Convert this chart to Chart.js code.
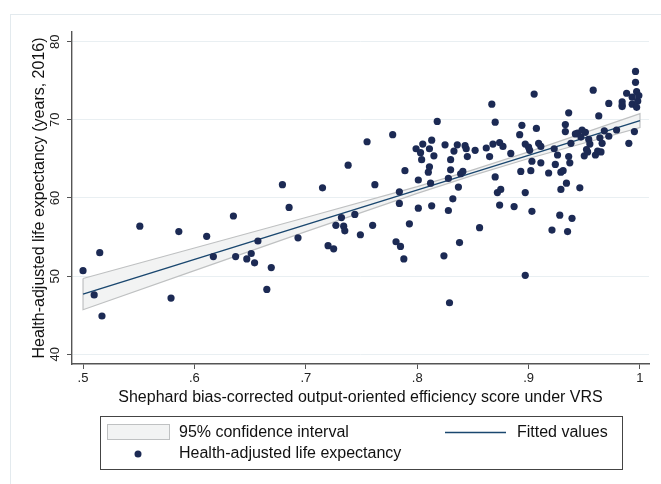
<!DOCTYPE html>
<html>
<head>
<meta charset="utf-8">
<script src="https://cdn.jsdelivr.net/npm/chart.js@4.4.0/dist/chart.umd.min.js"></script>
<style>
    html, body { margin: 0; padding: 0; background: #fff; }
    #wrap { position: relative; width: 661px; height: 484px; overflow: hidden; }
    #frame { position: absolute; left: 10px; top: 14px; width: 700px; height: 520px; border: 1px solid #e3eaee; }
    #chart { position: absolute; left: 0; top: 0; }
</style>
</head>
<body>
<div id="wrap">
    <div id="frame"></div>
    <canvas id="chart" width="661" height="484"></canvas>
</div>
<script>
// Scatter data: efficiency score (x) and health-adjusted life expectancy (y)
const efficiency = [
    .500, .510, .515, .517, .551, .579, .586, .611, .617, .635,
    .637, .647, .651, .654, .657, .665, .669, .679, .685, .693,
    .715, .720, .725, .727, .732, .734, .735, .738, .744, .749,
    .755, .760, .762, .778, .781, .784, .784, .785, .788, .789,
    .793, .799, .801, .801, .803, .804, .805, .810, .811, .811,
    .812, .813, .813, .815, .818, .824, .825, .828, .828, .829,
    .830, .830, .832, .833, .836, .837, .838, .839, .841, .843,
    .844, .845, .852, .856, .862, .865, .867, .868, .870, .870,
    .872, .874, .874, .875, .877, .884, .887, .892, .893, .894,
    .897, .897, .897, .900, .901, .902, .903, .903, .905, .907,
    .909, .911, .911, .918, .921, .923, .924, .926, .928, .929,
    .929, .931, .933, .933, .934, .935, .936, .936, .937, .938,
    .939, .942, .944, .946, .947, .948, .950, .951, .952, .953,
    .954, .955, .958, .960, .962, .963, .964, .965, .966, .968,
    .972, .972, .979, .984, .984, .984, .988, .990, .993, .993,
    .995, .996, .996, .997, .998, .997, .999
];
const hale = [
    50.7, 47.6, 53.0, 44.9, 56.4, 47.2, 55.7, 55.1, 52.5, 57.7,
    52.5, 52.2, 52.9, 51.7, 54.5, 48.3, 51.1, 61.7, 58.8, 54.9,
    61.3, 53.9, 53.5, 56.5, 57.5, 56.4, 55.8, 64.2, 57.9, 55.3,
    67.2, 56.5, 61.7, 68.1, 54.4, 60.8, 59.3, 53.8, 52.2, 63.5,
    56.7, 66.3, 62.3, 58.7, 65.8, 64.9, 66.9, 63.3, 66.3, 64.0,
    61.9, 59.0, 67.4, 65.4, 69.8, 52.6, 66.8, 58.4, 62.5, 46.6,
    63.6, 64.9, 59.9, 66.0, 66.8, 61.4, 54.3, 63.1, 63.4, 66.7,
    66.3, 65.3, 66.1, 56.2, 66.4, 65.3, 72.0, 66.9, 69.7, 62.7,
    60.7, 67.1, 59.1, 61.1, 66.6, 65.7, 58.9, 68.1, 63.4, 69.3,
    50.1, 60.7, 66.9, 66.5, 66.1, 63.5, 58.3, 64.7, 73.3, 68.9,
    67.0, 64.5, 66.6, 63.2, 55.9, 66.3, 64.3, 65.5, 57.8, 61.1,
    63.3, 63.5, 69.4, 68.5, 61.9, 55.7, 70.9, 65.3, 64.5, 67.0,
    57.4, 68.2, 68.3, 61.3, 67.8, 68.7, 65.4, 68.4, 66.2, 65.9,
    67.5, 66.9, 73.8, 65.5, 66.0, 70.5, 67.7, 65.9, 67.0, 68.6,
    67.9, 72.1, 68.7, 71.7, 72.3, 71.9, 73.4, 67.0, 72.0, 72.9,
    68.5, 76.2, 74.8, 73.6, 72.4, 71.6, 73.1
];

// Fitted line and its 95% confidence band
const fitX = [0.5, 1.0];
const fitY = [47.7, 69.9];
const ciX = [0.5, 0.6, 0.7, 0.8, 0.85, 0.9, 1.0];
const ciUpper = [49.7, 53.6, 57.5, 61.45, 63.6, 65.9, 70.8];
const ciLower = [45.7, 50.7, 55.7, 60.6, 62.9, 65.05, 69.0];

// Axis ticks
const xTicks = [0.5, 0.6, 0.7, 0.8, 0.9, 1.0];
const xTickLabels = ['.5', '.6', '.7', '.8', '.9', '1'];
const yTicks = [40, 50, 60, 70, 80];

const dotColor = '#1c2a54';
const fitColor = '#1a476f';
const bandFill = '#f2f3f3';
const bandEdge = '#bfc1c2';
const fontFamily = '"Liberation Sans", Arial, sans-serif';

const bandOutline = ciX.map((x, i) => ({ x: x, y: ciUpper[i] }))
    .concat(ciX.slice().reverse().map((x, i) => ({ x: x, y: ciLower[ciX.length - 1 - i] })));
bandOutline.push(bandOutline[0]);

// y tick labels rotated like the original, plus the boxed legend
const extrasPlugin = {
    id: 'extras',
    afterDraw(chart) {
        const ctx = chart.ctx;
        const ys = chart.scales.y;
        ctx.save();
        ctx.fillStyle = '#222';
        ctx.font = '13px ' + fontFamily;
        ctx.textAlign = 'center';
        ctx.textBaseline = 'middle';
        yTicks.forEach(function(v) {
            ctx.save();
            ctx.translate(55, ys.getPixelForValue(v));
            ctx.rotate(-Math.PI / 2);
            ctx.fillText(String(v), 0, 0);
            ctx.restore();
        });

        // Legend
        ctx.strokeStyle = '#444';
        ctx.lineWidth = 1;
        ctx.strokeRect(100.5, 416.5, 522, 53);

        ctx.fillStyle = bandFill;
        ctx.fillRect(107, 424, 62, 15);
        ctx.strokeStyle = bandEdge;
        ctx.strokeRect(107.5, 424.5, 62, 15);

        ctx.strokeStyle = fitColor;
        ctx.lineWidth = 1.5;
        ctx.beginPath();
        ctx.moveTo(445, 432.5);
        ctx.lineTo(506, 432.5);
        ctx.stroke();

        ctx.fillStyle = dotColor;
        ctx.beginPath();
        ctx.arc(138, 454, 3.5, 0, Math.PI * 2);
        ctx.fill();

        ctx.fillStyle = '#111';
        ctx.font = '16px ' + fontFamily;
        ctx.textAlign = 'left';
        ctx.fillText(chart.data.datasets[3].label, 179, 433);
        ctx.fillText(chart.data.datasets[1].label, 517, 433);
        ctx.fillText(chart.data.datasets[0].label, 179, 454);
        ctx.restore();
    }
};

const ctx = document.getElementById('chart').getContext('2d');
const chart = new Chart(ctx, {
    type: 'scatter',
    data: {
        datasets: [{
            label: 'Health-adjusted life expectancy',
            data: efficiency.map((x, i) => ({ x: x, y: hale[i] })),
            backgroundColor: dotColor,
            pointRadius: 3.6,
            pointBorderWidth: 0,
            order: 0
        }, {
            label: 'Fitted values',
            data: fitX.map((x, i) => ({ x: x, y: fitY[i] })),
            showLine: true,
            borderColor: fitColor,
            borderWidth: 1.5,
            pointRadius: 0,
            order: 1
        }, {
            label: 'band outline',
            data: bandOutline,
            showLine: true,
            borderColor: bandEdge,
            borderWidth: 1.2,
            pointRadius: 0,
            order: 2
        }, {
            label: '95% confidence interval',
            data: ciX.map((x, i) => ({ x: x, y: ciUpper[i] })),
            showLine: true,
            borderWidth: 0,
            borderColor: 'rgba(0,0,0,0)',
            backgroundColor: bandFill,
            fill: '+1',
            pointRadius: 0,
            order: 3
        }, {
            label: 'lower',
            data: ciX.map((x, i) => ({ x: x, y: ciLower[i] })),
            showLine: true,
            borderWidth: 0,
            borderColor: 'rgba(0,0,0,0)',
            pointRadius: 0,
            order: 4
        }]
    },
    options: {
        responsive: false,
        animation: false,
        events: [],
        layout: { padding: { left: 10, top: 32, right: 12, bottom: 74 } },
        plugins: {
            legend: { display: false },
            tooltip: { enabled: false }
        },
        scales: {
            x: {
                type: 'linear',
                min: 0.4901,
                max: 1.0081,
                afterBuildTicks: function(scale) {
                    scale.ticks = xTicks.map(v => ({ value: v }));
                },
                afterFit: function(scale) { scale.height = 46; },
                grid: {
                    drawOnChartArea: false,
                    drawTicks: true,
                    tickLength: 5,
                    tickColor: '#555'
                },
                border: { color: '#555', width: 1.4 },
                ticks: {
                    autoSkip: false,
                    maxRotation: 0,
                    padding: 2,
                    color: '#222',
                    font: { family: fontFamily, size: 13 },
                    callback: function(value) {
                        const i = xTicks.indexOf(value);
                        return i >= 0 ? xTickLabels[i] : '';
                    }
                },
                title: {
                    display: true,
                    text: 'Shephard bias-corrected output-oriented efficiency score under VRS',
                    color: '#111',
                    font: { family: fontFamily, size: 16 },
                    padding: { top: 0, bottom: 3 }
                }
            },
            y: {
                type: 'linear',
                min: 38.76,
                max: 81.24,
                afterBuildTicks: function(scale) {
                    scale.ticks = yTicks.map(v => ({ value: v }));
                },
                afterFit: function(scale) { scale.width = 62; },
                grid: {
                    color: '#e9eff2',
                    lineWidth: 1,
                    drawTicks: true,
                    tickLength: 5,
                    tickColor: '#555'
                },
                border: { color: '#555', width: 1.4 },
                ticks: { display: false },
                title: {
                    display: true,
                    text: 'Health-adjusted life expectancy (years, 2016)',
                    color: '#111',
                    font: { family: fontFamily, size: 16 },
                    padding: { top: 20, bottom: 0 }
                }
            }
        }
    },
    plugins: [extrasPlugin]
});
</script>
</body>
</html>
